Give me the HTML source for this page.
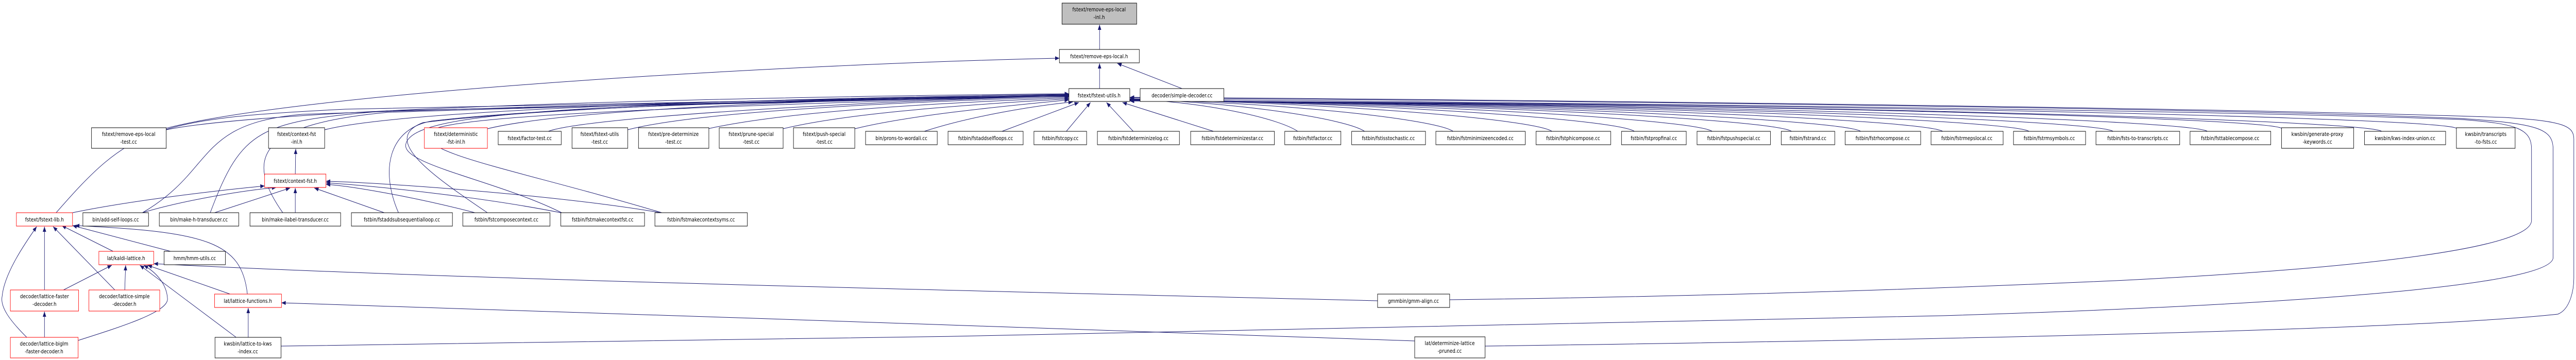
<!DOCTYPE html>
<html><head><meta charset="utf-8"><style>
html,body{margin:0;padding:0;background:#fff;width:100%;height:100%;overflow:hidden;}
svg{display:block;position:absolute;left:0;top:0;width:100vw;height:100vh;}
text{font-family:"DejaVu Sans","Liberation Sans",sans-serif;font-size:10.5px;fill:#000;text-anchor:middle;}
.n{fill:#fff;stroke:#000;stroke-width:1;}
.r{fill:#fff;stroke:#ff0000;stroke-width:1;}
.g{fill:#bfbfbf;stroke:#000;stroke-width:1;}
.e{fill:none;stroke:#191970;stroke-width:1;marker-end:url(#a);}
</style></head><body>
<svg viewBox="0 0 5967 699" preserveAspectRatio="none" xmlns="http://www.w3.org/2000/svg">
<defs><marker id="a" markerWidth="10" markerHeight="8" refX="10" refY="4" orient="auto" markerUnits="userSpaceOnUse"><path d="M0,0 L10,4 L0,8z" fill="#191970"/></marker></defs>

<path class="e" d="M2547,96 L2547,48"/>
<path class="e" d="M2547,172 L2547,123"/>
<path class="e" d="M2738,172 L2588,123"/>
<path class="e" d="M385,249 C700,180 1800,125 2454,113"/>

<path class="e" d="M385,252 C600,215 1500,190 2476,182"/>
<path class="e" d="M130,413 C300,250 350,230 800,212 C1600,195 2300,186 2476,184"/>
<path class="e" d="M330,413 C500,330 450,240 700,222 C1600,196 2300,186 2476,185"/>
<path class="e" d="M487,413 C560,250 600,235 900,215 C1700,196 2300,187 2476,186"/>
<path class="e" d="M655,413 C560,300 610,240 900,218 C1700,197 2300,188 2476,187"/>
<path class="e" d="M752,252 C900,220 1500,195 2476,183"/>
<path class="e" d="M1129,250 C1300,215 1800,195 2476,184"/>
<path class="e" d="M1270,255 C1350,230 1900,200 2476,186"/>
<path class="e" d="M1454,252 C1600,220 2000,200 2476,188"/>
<path class="e" d="M1640,250 C1800,220 2100,202 2476,190"/>
<path class="e" d="M1814,250 C1950,222 2200,205 2476,192"/>
<path class="e" d="M1980,250 C2100,225 2300,208 2476,194"/>
<path class="e" d="M2141,255 C2250,225 2400,205 2485,198"/>
<path class="e" d="M2321,255 L2499,199"/>
<path class="e" d="M2470,255 L2526,199"/>
<path class="e" d="M2625,255 L2563,199"/>
<path class="e" d="M2811,255 L2600,199"/>
<path class="e" d="M923,413 C880,330 900,250 1000,235 C1300,205 2000,192 2476,186"/>
<path class="e" d="M1129,413 C1000,340 880,270 980,238 C1300,205 2000,190 2476,185"/>
<path class="e" d="M1301,413 C1150,350 930,320 940,280 C950,240 1100,220 1500,205 C1900,195 2300,188 2476,186"/>
<path class="e" d="M1533,413 C1200,330 980,300 990,260 C1000,235 1200,215 2476,186"/>

<path class="e" d="M3006,255 C2966,232 2812,200 2617,192"/>
<path class="e" d="M3161,255 C3121,232 2889,200 2617,192"/>
<path class="e" d="M3366,255 C3326,232 2991,200 2617,193"/>
<path class="e" d="M3595,255 C3555,232 3106,200 2617,193"/>
<path class="e" d="M3786,255 C3746,232 3201,200 2617,193"/>
<path class="e" d="M3966,255 C3926,232 3291,200 2617,194"/>
<path class="e" d="M4150,255 C4110,232 3383,200 2617,194"/>
<path class="e" d="M4310,255 C4270,232 3463,200 2617,194"/>
<path class="e" d="M4500,255 C4460,232 3558,200 2617,195"/>
<path class="e" d="M4700,255 C4660,232 3658,200 2617,195"/>
<path class="e" d="M4895,255 C4855,232 3756,200 2617,195"/>
<path class="e" d="M5113,255 C5073,232 3865,200 2617,196"/>
<path class="e" d="M5285,249 C5245,228 3951,200 2617,196"/>
<path class="e" d="M5517,255 C5477,232 4067,200 2617,196"/>
<path class="e" d="M5690,249 C5650,228 4153,200 2617,196"/>
<path class="e" d="M3358,582 C4000,575 4500,560 4900,545 C5500,520 5864,480 5864,428 L5864,290 C5864,250 5830,240 5700,232 C5000,210 3000,195 2617,192"/>
<path class="e" d="M651,672 C2000,660 3000,640 4500,613 C5200,595 5914,560 5914,500 L5914,290 C5914,250 5880,240 5700,230 C5000,205 3000,192 2617,190"/>
<path class="e" d="M3440,672 C4500,660 5600,640 5925,610 C5955,600 5962,560 5962,540 L5962,270 C5962,245 5940,235 5800,228 C5000,205 3000,190 2617,189"/>

<path class="e" d="M684,338 L685,289"/>
<path class="e" d="M168,413 C300,390 500,370 613,361"/>
<path class="e" d="M330,413 C420,390 560,370 640,364"/>
<path class="e" d="M497,413 L672,365"/>
<path class="e" d="M684,413 L684,365"/>
<path class="e" d="M890,413 L728,365"/>
<path class="e" d="M1100,413 C950,380 800,360 755,358"/>
<path class="e" d="M1299,413 C1100,380 850,360 755,355"/>
<path class="e" d="M1530,413 C1300,380 900,355 755,352"/>

<path class="e" d="M262,488 L143,438"/>
<path class="e" d="M395,488 L168,438"/>
<path class="e" d="M573,571 C560,470 480,450 174,438"/>
<path class="e" d="M103,563 L103,440"/>
<path class="e" d="M266,563 L123,440"/>
<path class="e" d="M62,655 C20,620 0,595 5,575 C10,530 60,470 85,440"/>
<path class="e" d="M147,563 L259,515"/>
<path class="e" d="M289,563 L291,515"/>
<path class="e" d="M181,661 C290,632 390,605 388,580 C386,550 360,528 333,515"/>
<path class="e" d="M547,655 L324,515"/>
<path class="e" d="M533,571 L342,515"/>
<path class="e" d="M3191,584 C2000,560 1000,540 356,512"/>
<path class="e" d="M103,655 L103,605"/>
<path class="e" d="M575,655 L575,598"/>
<path class="e" d="M3277,662 C2500,640 1500,610 652,588"/>

<rect class="g" x="2460" y="6" width="173" height="41"/><text x="2546" y="22">fstext/remove-eps-local</text><text x="2546" y="37">-inl.h</text>
<rect class="n" x="2454" y="96" width="185" height="26"/><text x="2546" y="113">fstext/remove-eps-local.h</text>
<rect class="n" x="2476" y="172" width="141" height="25"/><text x="2546" y="189">fstext/fstext-utils.h</text>
<rect class="n" x="2641" y="172" width="194" height="25"/><text x="2738" y="189">decoder/simple-decoder.cc</text>

<rect class="n" x="212" y="248" width="173" height="40"/><text x="298" y="264">fstext/remove-eps-local</text><text x="298" y="279">-test.cc</text>
<rect class="n" x="622" y="248" width="130" height="40"/><text x="687" y="264">fstext/context-fst</text><text x="687" y="279">-inl.h</text>
<rect class="r" x="983" y="248" width="146" height="40"/><text x="1056" y="264">fstext/deterministic</text><text x="1056" y="279">-fst-inl.h</text>
<rect class="n" x="1154" y="255" width="146" height="26"/><text x="1227" y="272">fstext/factor-test.cc</text>
<rect class="n" x="1325" y="248" width="129" height="40"/><text x="1389" y="264">fstext/fstext-utils</text><text x="1389" y="279">-test.cc</text>
<rect class="n" x="1479" y="248" width="163" height="40"/><text x="1560" y="264">fstext/pre-determinize</text><text x="1560" y="279">-test.cc</text>
<rect class="n" x="1666" y="248" width="148" height="40"/><text x="1740" y="264">fstext/prune-special</text><text x="1740" y="279">-test.cc</text>
<rect class="n" x="1838" y="248" width="142" height="40"/><text x="1909" y="264">fstext/push-special</text><text x="1909" y="279">-test.cc</text>
<rect class="n" x="2005" y="255" width="166" height="26"/><text x="2088" y="272">bin/prons-to-wordali.cc</text>
<rect class="n" x="2196" y="255" width="174" height="26"/><text x="2283" y="272">fstbin/fstaddselfloops.cc</text>
<rect class="n" x="2395" y="255" width="122" height="26"/><text x="2456" y="272">fstbin/fstcopy.cc</text>
<rect class="n" x="2542" y="255" width="190" height="26"/><text x="2637" y="272">fstbin/fstdeterminizelog.cc</text>
<rect class="n" x="2758" y="255" width="194" height="26"/><text x="2855" y="272">fstbin/fstdeterminizestar.cc</text>
<rect class="n" x="2976" y="255" width="130" height="26"/><text x="3041" y="272">fstbin/fstfactor.cc</text>
<rect class="n" x="3131" y="255" width="171" height="26"/><text x="3216" y="272">fstbin/fstisstochastic.cc</text>
<rect class="n" x="3326" y="255" width="207" height="26"/><text x="3429" y="272">fstbin/fstminimizeencoded.cc</text>
<rect class="n" x="3558" y="255" width="173" height="26"/><text x="3644" y="272">fstbin/fstphicompose.cc</text>
<rect class="n" x="3756" y="255" width="150" height="26"/><text x="3831" y="272">fstbin/fstpropfinal.cc</text>
<rect class="n" x="3931" y="255" width="170" height="26"/><text x="4016" y="272">fstbin/fstpushspecial.cc</text>
<rect class="n" x="4126" y="255" width="124" height="26"/><text x="4188" y="272">fstbin/fstrand.cc</text>
<rect class="n" x="4274" y="255" width="175" height="26"/><text x="4361" y="272">fstbin/fstrhocompose.cc</text>
<rect class="n" x="4473" y="255" width="167" height="26"/><text x="4556" y="272">fstbin/fstrmepslocal.cc</text>
<rect class="n" x="4664" y="255" width="167" height="26"/><text x="4747" y="272">fstbin/fstrmsymbols.cc</text>
<rect class="n" x="4855" y="255" width="194" height="26"/><text x="4952" y="272">fstbin/fsts-to-transcripts.cc</text>
<rect class="n" x="5073" y="255" width="187" height="26"/><text x="5166" y="272">fstbin/fsttablecompose.cc</text>
<rect class="n" x="5285" y="248" width="167" height="40"/><text x="5368" y="264">kwsbin/generate-proxy</text><text x="5368" y="279">-keywords.cc</text>
<rect class="n" x="5477" y="255" width="188" height="26"/><text x="5571" y="272">kwsbin/kws-index-union.cc</text>
<rect class="n" x="5690" y="248" width="136" height="40"/><text x="5758" y="264">kwsbin/transcripts</text><text x="5758" y="279">-to-fsts.cc</text>

<rect class="r" x="613" y="338" width="142" height="26"/><text x="684" y="355">fstext/context-fst.h</text>

<rect class="r" x="38" y="413" width="130" height="26"/><text x="103" y="430">fstext/fstext-lib.h</text>
<rect class="n" x="192" y="413" width="152" height="26"/><text x="268" y="430">bin/add-self-loops.cc</text>
<rect class="n" x="369" y="413" width="184" height="26"/><text x="461" y="430">bin/make-h-transducer.cc</text>
<rect class="n" x="579" y="413" width="210" height="26"/><text x="684" y="430">bin/make-ilabel-transducer.cc</text>
<rect class="n" x="814" y="413" width="234" height="26"/><text x="931" y="430">fstbin/fstaddsubsequentialloop.cc</text>
<rect class="n" x="1072" y="413" width="202" height="26"/><text x="1173" y="430">fstbin/fstcomposecontext.cc</text>
<rect class="n" x="1299" y="413" width="194" height="26"/><text x="1396" y="430">fstbin/fstmakecontextfst.cc</text>
<rect class="n" x="1517" y="413" width="214" height="26"/><text x="1624" y="430">fstbin/fstmakecontextsyms.cc</text>

<rect class="r" x="229" y="488" width="127" height="26"/><text x="292" y="505">lat/kaldi-lattice.h</text>
<rect class="n" x="380" y="488" width="142" height="26"/><text x="451" y="505">hmm/hmm-utils.cc</text>
<rect class="r" x="24" y="563" width="158" height="41"/><text x="103" y="579">decoder/lattice-faster</text><text x="103" y="594">-decoder.h</text>
<rect class="r" x="206" y="563" width="164" height="41"/><text x="288" y="579">decoder/lattice-simple</text><text x="288" y="594">-decoder.h</text>
<rect class="r" x="497" y="571" width="155" height="26"/><text x="574" y="588">lat/lattice-functions.h</text>
<rect class="r" x="24" y="655" width="157" height="40"/><text x="102" y="671">decoder/lattice-biglm</text><text x="102" y="686">-faster-decoder.h</text>
<rect class="n" x="498" y="655" width="153" height="40"/><text x="574" y="671">kwsbin/lattice-to-kws</text><text x="574" y="686">-index.cc</text>
<rect class="n" x="3191" y="571" width="167" height="26"/><text x="3274" y="588">gmmbin/gmm-align.cc</text>
<rect class="n" x="3277" y="654" width="163" height="41"/><text x="3358" y="670">lat/determinize-lattice</text><text x="3358" y="685">-pruned.cc</text>
</svg>
</body></html>
